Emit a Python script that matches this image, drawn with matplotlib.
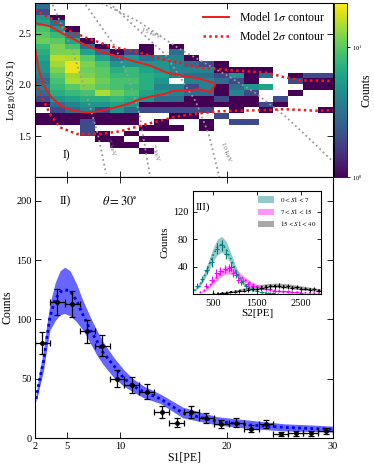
import numpy as np
import matplotlib
matplotlib.use("Agg")
import matplotlib.pyplot as plt
from matplotlib.colors import LogNorm
from matplotlib.patches import Patch

plt.rcParams["font.family"] = ["Liberation Serif", "DejaVu Serif"]
plt.rcParams["mathtext.fontset"] = "stix"
plt.rcParams["font.size"] = 7.5
for a in ("xtick", "ytick"):
    plt.rcParams[a + ".direction"] = "in"
    plt.rcParams[a + ".major.size"] = 4
    plt.rcParams[a + ".major.width"] = 0.6
plt.rcParams["xtick.top"] = True
plt.rcParams["ytick.right"] = True
plt.rcParams["axes.linewidth"] = 0.8

# ---- panel I: 2D histogram counts, rows from top (log 2.8) to bottom (log 1.1), 20 S1 bins
s1_edges = np.arange(2.0, 30.01, 1.4)
logr_edges = np.linspace(1.1, 2.8, 31)
hist_rows = [
    [3, 0, 0, 0, 0, 0, 0, 0, 0, 0, 0, 0, 0, 0, 0, 0, 0, 0, 0, 0],
    [2, 0, 0, 0, 0, 0, 0, 0, 0, 0, 0, 0, 0, 0, 0, 0, 0, 0, 0, 0],
    [5, 1, 0, 0, 0, 0, 0, 0, 0, 0, 0, 0, 0, 0, 0, 0, 0, 0, 0, 0],
    [6, 3, 0, 0, 0, 0, 0, 0, 0, 0, 0, 0, 0, 0, 0, 0, 0, 0, 0, 0],
    [9, 5, 1, 0, 0, 0, 0, 0, 0, 0, 0, 0, 0, 0, 0, 0, 0, 0, 0, 0],
    [10, 8, 3, 0, 0, 0, 0, 0, 0, 0, 0, 0, 0, 0, 0, 0, 0, 0, 0, 0],
    [11, 10, 6, 1, 0, 0, 0, 0, 0, 0, 0, 0, 0, 0, 0, 0, 0, 0, 0, 0],
    [8, 12, 9, 3, 1, 0, 0, 1, 0, 1, 0, 0, 0, 0, 0, 0, 0, 0, 0, 0],
    [7, 12, 12, 6, 3, 1, 2, 1, 0, 3, 0, 0, 0, 0, 0, 0, 0, 0, 0, 0],
    [6, 16, 15, 10, 6, 3, 5, 3, 4, 4, 1, 0, 0, 0, 0, 0, 0, 0, 0, 0],
    [5, 14, 20, 12, 9, 5, 5, 5, 5, 4, 3, 2, 1, 0, 0, 0, 0, 0, 0, 0],
    [5, 12, 20, 11, 10, 7, 8, 6, 5, 4, 4, 4, 1, 1, 1, 1, 0, 0, 0, 0],
    [4, 10, 14, 12, 10, 8, 8, 7, 6, 4, 3, 3, 2, 5, 1, 3, 0, 1, 2, 2],
    [3, 9, 15, 14, 11, 9, 9, 7, 5, 0, 4, 4, 3, 2, 1, 0, 0, 2, 1, 1],
    [4, 8, 10, 12, 10, 9, 8, 7, 4, 4, 2, 4, 1, 3, 5, 6, 0, 0, 1, 1],
    [3, 7, 8, 9, 15, 11, 9, 6, 5, 4, 3, 3, 1, 4, 2, 0, 0, 1, 0, 0],
    [2, 5, 6, 7, 7, 8, 7, 5, 3, 3, 1, 1, 2, 1, 1, 0, 2, 0, 0, 0],
    [1, 3, 4, 5, 5, 6, 5, 1, 1, 1, 1, 1, 1, 1, 1, 2, 1, 0, 0, 0],
    [0, 2, 3, 4, 2, 5, 3, 2, 2, 2, 2, 2, 0, 1, 0, 1, 0, 0, 0, 1],
    [1, 1, 1, 1, 1, 1, 1, 0, 0, 1, 1, 0, 2, 0, 0, 0, 0, 0, 0, 0],
    [1, 1, 1, 2, 1, 1, 1, 0, 1, 0, 0, 1, 0, 2, 2, 0, 0, 0, 0, 0],
    [0, 0, 0, 2, 0, 0, 0, 1, 1, 1, 0, 1, 0, 0, 0, 0, 0, 0, 0, 0],
    [0, 0, 0, 2, 1, 0, 1, 0, 0, 0, 0, 0, 0, 0, 0, 0, 0, 0, 0, 0],
    [0, 0, 0, 0, 1, 1, 0, 1, 1, 0, 0, 0, 0, 0, 0, 0, 0, 0, 0, 0],
    [0, 0, 0, 0, 0, 1, 1, 0, 0, 0, 0, 0, 0, 0, 0, 0, 0, 0, 0, 0],
    [0, 0, 0, 0, 0, 0, 0, 1, 0, 0, 0, 0, 0, 0, 0, 0, 0, 0, 0, 0],
    [0, 0, 0, 0, 0, 0, 0, 0, 0, 0, 0, 0, 0, 0, 0, 0, 0, 0, 0, 0],
    [0, 0, 0, 0, 0, 0, 0, 0, 0, 0, 0, 0, 0, 0, 0, 0, 0, 0, 0, 0],
    [0, 0, 0, 0, 0, 0, 0, 0, 0, 0, 0, 0, 0, 0, 0, 0, 0, 0, 0, 0],
    [0, 0, 0, 0, 0, 0, 0, 0, 0, 0, 0, 0, 0, 0, 0, 0, 0, 0, 0, 0],
]

# model contours (S1, log10(S2/S1))
c1_s1 = [2.0, 3.41, 4.98, 6.54, 8.11, 9.68, 11.24, 12.81, 14.38, 15.94, 17.51, 18.76, 18.92,
         18.45, 17.51, 16.26, 15.0, 14.4, 14.06, 13.12, 11.87, 10.62, 9.36, 8.11, 6.85, 5.6,
         4.51, 3.57, 2.78, 2.31, 2.0]
c1_lr = [2.605, 2.573, 2.48, 2.40, 2.33, 2.28, 2.233, 2.19, 2.12, 2.09, 2.06, 2.02, 2.0,
         1.93, 1.958, 1.948, 1.942, 1.92, 1.909, 1.893, 1.861, 1.81, 1.776, 1.745, 1.731,
         1.748, 1.79, 1.877, 2.0, 2.168, 2.362]
c2_up_s1 = [2.0, 2.78, 3.41, 4.98, 6.85, 9.05, 11.87, 14.38, 15.63, 17.51, 20.64, 23.77, 25.35,
            26.92, 30.0]
c2_up_lr = [2.735, 2.686, 2.654, 2.54, 2.46, 2.379, 2.314, 2.24, 2.217, 2.168, 2.142, 2.12,
            2.078, 2.045, 2.039]
c2_lo_s1 = [2.0, 2.8, 3.41, 4.35, 5.92, 8.11, 9.99, 12.5, 15.0, 16.26, 19.08, 20.64, 23.77,
            25.35, 28.48, 30.0]
c2_lo_lr = [2.023, 1.85, 1.715, 1.586, 1.521, 1.521, 1.547, 1.618, 1.683, 1.709, 1.741,
            1.748, 1.754, 1.764, 1.748, 1.754]

# constant-energy guide lines
kev5_s1 = [3.66, 5.55, 6.64, 7.9, 8.68]
kev5_lr = [2.783, 2.33, 1.974, 1.521, 1.133]
kev7_s1 = [6.76, 9.4, 10.66, 11.75, 12.85]
kev7_lr = [2.783, 2.395, 2.104, 1.748, 1.085]
kev10_s1 = [8.99, 11.87, 14.25, 17.07, 18.32, 19.32]
kev10_lr = [2.8, 2.524, 2.298, 1.845, 1.521, 1.1]
kev15_s1 = [8.26, 11.71, 13.55, 15.43, 17.63, 20.14, 22.65, 25.46, 27.97, 30.0]
kev15_lr = [2.8, 2.621, 2.492, 2.362, 2.233, 2.087, 1.926, 1.699, 1.456, 1.25]

# ---- panel II: S1 spectrum
s1_centers = [2.7, 4.1, 5.5, 6.9, 8.3, 9.7, 11.1, 12.5, 13.9, 15.3, 16.7, 18.1, 19.5, 20.9,
              22.3, 23.7, 25.1, 26.5, 27.9, 29.3]
s1_counts = [80, 115, 113, 90, 78, 50, 45, 39, 22, 13, 22, 17, 12, 13, 8, 12, 3, 4, 4, 6]
s1_errs = [9, 11, 11, 9.5, 9, 7, 6.7, 6.2, 4.7, 3.6, 4.7, 4.1, 3.5, 3.6, 2.8, 3.5, 1.7, 2, 2, 2.4]
band_s1 = [2.1, 2.4, 2.8, 3.1, 3.4, 3.9, 4.35, 4.8, 5.3, 5.9, 6.5, 7.2, 7.8, 8.4, 9.4, 10.3,
           11.2, 12.2, 13.8, 15.9, 19.1, 22.2, 25.4, 28.0, 30.0]
band_hi = [37, 55, 74, 95, 113, 131, 141, 144, 141, 130, 116, 102, 91, 81, 68, 58, 50, 44, 37,
           26, 18, 15, 12, 11, 10]
band_lo = [30, 42, 57, 75, 91, 99, 104, 105, 103, 98, 91, 80, 70, 62, 51, 44, 39, 34, 29, 17,
           11, 8, 6, 5.5, 5]
band_mid = [33, 48, 65, 84, 102, 117, 123, 125, 124, 116, 104, 91, 82, 72, 61, 51, 44, 39, 33,
            21, 14, 11, 9, 8, 7.5]

# ---- panel III: S2 spectra in S1 slices
teal_x = [150, 250, 360, 470, 590, 700, 800, 920, 1030, 1140, 1260, 1380, 1500, 1620, 1740, 1860]
teal_y = [12, 22, 35, 47, 66, 71, 58, 40, 28, 18, 11, 7, 5, 3, 2, 2]
teal_e = [3.5, 4.7, 5.9, 6.9, 8.1, 8.4, 7.6, 6.3, 5.3, 4.2, 3.3, 2.6, 2.2, 1.7, 1.4, 1.4]
teal_bx = [80, 200, 300, 400, 500, 600, 700, 800, 900, 1000, 1100, 1200, 1400, 1600, 1800, 2000]
teal_mid = [5, 13, 25, 40, 56, 68, 72, 66, 52, 37, 24, 15, 6, 2.5, 1, 0.5]
teal_hi = [7, 17, 31, 48, 66, 80, 84, 77, 61, 44, 29, 18, 8, 3, 1.2, 0.6]
teal_lo = [3, 10, 20, 33, 47, 57, 61, 56, 44, 31, 20, 12, 5, 2, 0.8, 0.4]

mag_x = [350, 470, 580, 670, 770, 870, 960, 1075, 1190, 1300, 1400, 1500, 1600, 1700, 1800,
         1900, 2000, 2100, 2200, 2300, 2400, 2500]
mag_y = [12, 21, 31, 34, 36, 38, 31, 21, 19, 14, 12, 10, 8, 7, 7, 5, 5, 4, 4, 3, 3, 2]
mag_e = [3.5, 4.6, 5.6, 5.8, 6, 6.2, 5.6, 4.6, 4.4, 3.7, 3.5, 3.2, 2.8, 2.6, 2.6, 2.2, 2.2, 2,
         2, 1.7, 1.7, 1.4]
mag_bx = [200, 300, 400, 500, 600, 700, 800, 900, 1000, 1100, 1200, 1400, 1600, 1800, 2000,
          2200, 2400, 2600, 2800, 2950]
mag_mid = [2, 5, 10, 17, 25, 31, 35, 35, 32, 27, 22, 14, 9, 6, 4, 3, 2.5, 2, 1.5, 1]
mag_hi = [3, 7, 13, 21, 30, 37, 41, 41, 38, 32, 26, 17, 11, 7.5, 5, 4, 3, 2.5, 2, 1.5]
mag_lo = [1, 3, 7, 13, 20, 26, 29, 29, 27, 22, 18, 11, 7, 4.5, 3, 2, 1.8, 1.4, 1, 0.6]

blk_x = [700, 800, 900, 1000, 1100, 1200, 1300, 1400, 1500, 1600, 1700, 1800, 1900, 2000,
         2100, 2200, 2300, 2400, 2500, 2600, 2700, 2800, 2900]
blk_y = [1, 2, 3, 3, 4, 5, 6, 7, 7, 9, 10, 11, 11, 12, 10, 11, 9, 10, 8, 8, 6, 7, 5]
blk_e = [1, 1.4, 1.7, 1.7, 2, 2.2, 2.4, 2.6, 2.6, 3, 3.2, 3.3, 3.3, 3.5, 3.2, 3.3, 3, 3.2,
         2.8, 2.8, 2.4, 2.6, 2.2]
blk_bx = [500, 700, 900, 1100, 1300, 1500, 1700, 1900, 2100, 2300, 2500, 2700, 2950]
blk_mid = [0.5, 1.5, 3, 5, 7.5, 10, 11.5, 12, 11.5, 10, 8.5, 7, 5]
blk_hi = [1, 2.5, 4.5, 7, 10, 13, 15, 16, 15.5, 14, 12, 10, 7.5]
blk_lo = [0, 0.8, 2, 3.5, 5.5, 7.5, 9, 9.5, 9, 7.5, 6, 5, 3.5]

RED = "#ee1c1c"
GUIDE = "#9a9a9a"

fig = plt.figure(figsize=(3.74, 4.66), dpi=100)
ax_top = fig.add_axes([0.0936, 0.620, 0.7968, 0.3734])
ax_bot = fig.add_axes([0.0936, 0.060, 0.7968, 0.560], sharex=ax_top)
cax = fig.add_axes([0.893, 0.620, 0.0348, 0.3734])
ax_in = fig.add_axes([0.516, 0.369, 0.342, 0.221])

# panel I
counts = np.ma.masked_equal(np.array(hist_rows[::-1], dtype=float), 0)
mesh = ax_top.pcolormesh(s1_edges, logr_edges, counts, cmap="viridis",
                         norm=LogNorm(vmin=1, vmax=22), edgecolors="none")
for xs, ys in ((kev5_s1, kev5_lr), (kev7_s1, kev7_lr), (kev10_s1, kev10_lr), (kev15_s1, kev15_lr)):
    ax_top.plot(xs, ys, color=GUIDE, ls=":", lw=1.3)
ax_top.text(12.9, 2.50, "15 keV", color="#777777", fontsize=5, rotation=-22, ha="center", va="center")
ax_top.text(9.1, 1.39, "5 keV", color="#777777", fontsize=5, rotation=-72, ha="center", va="center")
ax_top.text(13.3, 1.34, "7 keV", color="#777777", fontsize=5, rotation=-72, ha="center", va="center")
ax_top.text(19.9, 1.34, "10 keV", color="#777777", fontsize=5, rotation=-70, ha="center", va="center")

ax_top.plot(c1_s1, c1_lr, color=RED, lw=1.4, label=r"Model 1$\sigma$ contour")
ax_top.plot(c2_up_s1, c2_up_lr, color=RED, lw=1.8, ls=(0, (1, 1.3)), label=r"Model 2$\sigma$ contour")
ax_top.plot(c2_lo_s1, c2_lo_lr, color=RED, lw=1.8, ls=(0, (1, 1.3)))
ax_top.legend(loc="upper right", frameon=False, fontsize=8.5, handlelength=2.2,
              borderaxespad=0.3, labelspacing=0.45)
ax_top.text(0.106, 0.126, "I)", transform=ax_top.transAxes, fontsize=8.5, ha="center", va="center")
ax_top.set_ylim(1.1, 2.8)
ax_top.set_yticks([1.5, 2.0, 2.5])
ax_top.set_ylabel(r"Log$_{10}$(S2/S1)", fontsize=8, labelpad=0.5)
ax_top.tick_params(labelbottom=False, pad=2.5)

cb = fig.colorbar(mesh, cax=cax)
cb.minorticks_off()
cb.set_ticks([1, 10])
cax.tick_params(labelsize=4.5, direction="out", length=2.5, pad=1)
cb.set_label("Counts", fontsize=8.5, labelpad=-1)
cb.outline.set_linewidth(0.6)

# panel II
ax_bot.fill_between(band_s1, band_lo, band_hi, color="#6666ff", lw=0)
ax_bot.plot(band_s1, band_mid, color="#0000ee", ls=(0, (1, 1.2)), lw=2)
ax_bot.errorbar(s1_centers, s1_counts, xerr=0.7, yerr=s1_errs, fmt="o", ms=2.5,
                color="black", ecolor="black", elinewidth=0.9, capsize=2, capthick=0.9)
ax_bot.set_xlim(2, 30)
ax_bot.set_ylim(0, 220)
ax_bot.set_xticks([2, 5, 10, 20, 30])
ax_bot.set_xticklabels(["2", "5", "10", "20", "30"])
ax_bot.set_yticks([0, 50, 100, 150, 200])
ax_bot.tick_params(pad=2.5)
ax_bot.set_xlabel("S1[PE]", fontsize=8.5, labelpad=1)
ax_bot.set_ylabel("Counts", fontsize=8.5, labelpad=2)
ax_bot.text(0.10, 0.908, "II)", transform=ax_bot.transAxes, fontsize=8.5, ha="center", va="center")
ax_bot.text(0.285, 0.908, r"$\theta = 30^{\circ}$", transform=ax_bot.transAxes, fontsize=9,
            ha="center", va="center")

# panel III
ax_in.fill_between(blk_bx, blk_lo, blk_hi, color="#8c8c8c", alpha=0.75, lw=0)
ax_in.fill_between(mag_bx, mag_lo, mag_hi, color="#ff66ff", alpha=0.7, lw=0)
ax_in.fill_between(teal_bx, teal_lo, teal_hi, color="#66b3b3", alpha=0.7, lw=0)
ax_in.plot(teal_bx, teal_mid, color="#008080", ls=":", lw=1.2)
ax_in.plot(mag_bx, mag_mid, color="#ee00ee", ls=":", lw=1.2)
ax_in.plot(blk_bx, blk_mid, color="black", ls=":", lw=1.2)
ax_in.errorbar(teal_x, teal_y, xerr=50, yerr=teal_e, fmt="none", ecolor="#008080", elinewidth=0.8)
ax_in.errorbar(mag_x, mag_y, xerr=50, yerr=mag_e, fmt="none", ecolor="#ff00ff", elinewidth=0.8)
ax_in.errorbar(blk_x, blk_y, xerr=50, yerr=blk_e, fmt="none", ecolor="black", elinewidth=0.8)
ax_in.set_xlim(50, 2950)
ax_in.set_ylim(0, 150)
ax_in.set_xticks([500, 1500, 2500])
ax_in.set_yticks([40, 80, 120])
ax_in.tick_params(length=3)
ax_in.set_xlabel("S2[PE]", fontsize=8, labelpad=1)
ax_in.set_ylabel("Counts", fontsize=8, labelpad=2)
ax_in.text(0.02, 0.84, "III)", transform=ax_in.transAxes, fontsize=8, ha="left", va="center")
handles = [Patch(facecolor="#66b3b3", alpha=0.7), Patch(facecolor="#ff66ff", alpha=0.7),
           Patch(facecolor="#8c8c8c", alpha=0.75)]
ax_in.legend(handles, [r"$0 < S1 < 7$", r"$7 < S1 < 15$", r"$15 < S1 < 40$"],
             loc="upper right", frameon=False, fontsize=5, handlelength=2.3, handleheight=1.1,
             borderaxespad=0.3, labelspacing=0.55)

fig.savefig("out.png", dpi=100)
